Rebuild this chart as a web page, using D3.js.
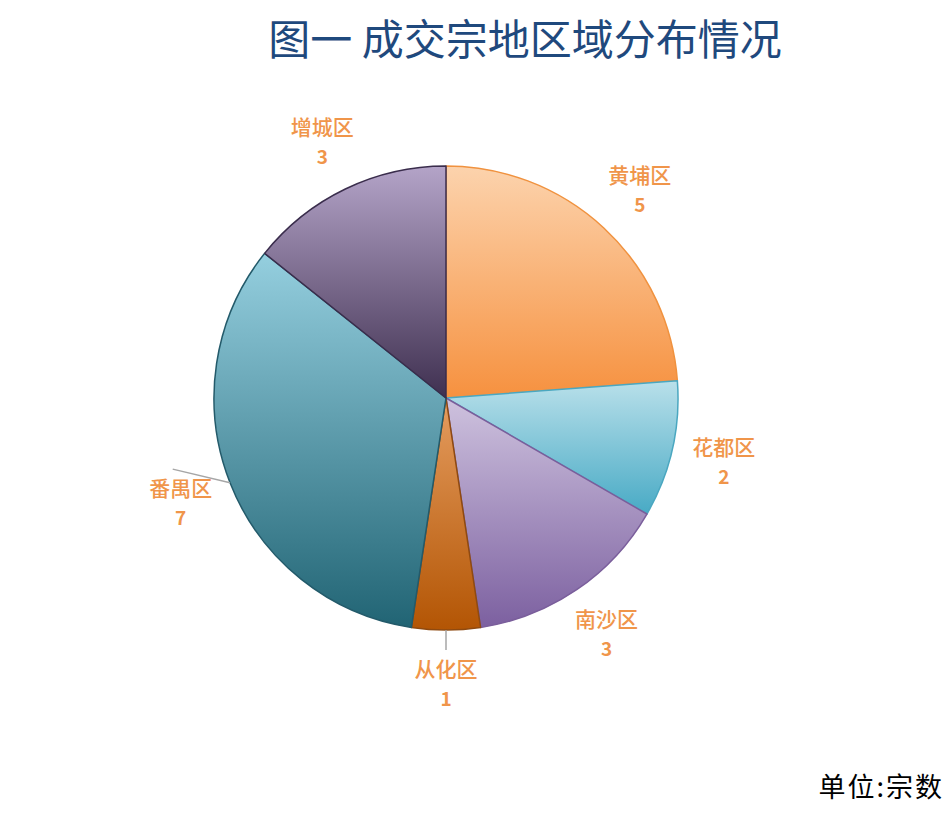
<!DOCTYPE html>
<html><head><meta charset="utf-8">
<script src="https://cdn.jsdelivr.net/npm/d3@7"></script>
<style>html,body{margin:0;padding:0;background:#fff;}</style>
</head><body>
<svg id="chart" width="952" height="814"></svg>
<script>
const titleText = "图一 成交宗地区域分布情况";
const unitText = "单位:宗数";
const categories = ["黄埔区", "花都区", "南沙区", "从化区", "番禺区", "增城区"];
const values = [5, 2, 3, 1, 7, 3];
const topColors = ["#fcd3ad", "#b9e0ea", "#cec2de", "#e59d60", "#95cfdf", "#b4a4c8"];
const bottomColors = ["#f6913f", "#48aac5", "#7c60a0", "#b35504", "#216474", "#3f3050"];
const strokeColors = ["#f0923f", "#4aa7c0", "#7a5e9b", "#8f4a10", "#235a6a", "#3a2d4c"];
const leaderNames = ["从化区", "番禺区"];

const svg = d3.select("#chart");
const cx = 446, cy = 398, R = 232, labelR = 285;
const FONT = "'Noto Sans CJK SC', 'Noto Sans', sans-serif";

const data = categories.map((c, i) => ({name: c, value: values[i], i}));

const defs = svg.append("defs");
data.forEach(d => {
  const g = defs.append("linearGradient").attr("id", "grad" + d.i)
    .attr("x1", 0).attr("y1", 0).attr("x2", 0).attr("y2", 1);
  g.append("stop").attr("offset", "0%").attr("stop-color", topColors[d.i]);
  g.append("stop").attr("offset", "100%").attr("stop-color", bottomColors[d.i]);
});

const pie = d3.pie().value(d => d.value).sort(null);
const arcs = pie(data);
const arc = d3.arc().innerRadius(0).outerRadius(R);
const labelArc = d3.arc().innerRadius(labelR).outerRadius(labelR);
const edgeArc = d3.arc().innerRadius(R).outerRadius(R);

const g = svg.append("g").attr("transform", `translate(${cx},${cy})`);

g.selectAll("path.slice").data(arcs).enter().append("path")
  .attr("class", "slice")
  .attr("d", arc)
  .attr("fill", d => `url(#grad${d.data.i})`)
  .attr("stroke", d => strokeColors[d.data.i])
  .attr("stroke-width", 1.5)
  .attr("stroke-linejoin", "round");

arcs.filter(d => leaderNames.includes(d.data.name)).forEach(d => {
  const s = edgeArc.centroid(d);
  const l = labelArc.centroid(d);
  const e = [l[0] - (l[0] < -50 ? 8 : 0), l[1] - 33];
  g.append("line")
    .attr("x1", s[0]).attr("y1", s[1]).attr("x2", e[0]).attr("y2", e[1])
    .attr("stroke", "#a6a6a6").attr("stroke-width", 1.5);
});

const labels = g.selectAll("g.lbl").data(arcs).enter().append("g")
  .attr("class", "lbl")
  .attr("transform", d => `translate(${labelArc.centroid(d)})`);
labels.append("text")
  .attr("text-anchor", "middle").attr("y", -6)
  .attr("font-family", FONT).attr("font-size", 21).attr("font-weight", 500)
  .attr("fill", "#f0954a")
  .text(d => d.data.name);
labels.append("text")
  .attr("text-anchor", "middle").attr("y", 23)
  .attr("font-family", FONT).attr("font-size", 19).attr("font-weight", "bold")
  .attr("fill", "#f0954a")
  .text(d => d.data.value);

svg.append("text")
  .attr("x", 525).attr("y", 55)
  .attr("text-anchor", "middle")
  .attr("font-family", FONT).attr("font-size", 42)
  .attr("fill", "#1f497d")
  .text(titleText);

svg.append("text")
  .attr("x", 944).attr("y", 797)
  .attr("text-anchor", "end")
  .attr("font-family", FONT).attr("font-size", 27)
  .attr("letter-spacing", 2)
  .attr("fill", "#000")
  .text(unitText);
</script>
</body></html>
